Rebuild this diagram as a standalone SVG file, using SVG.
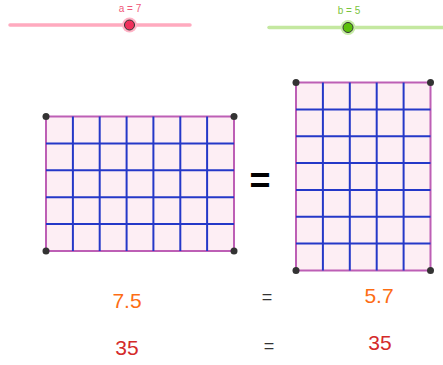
<svg xmlns="http://www.w3.org/2000/svg" width="443" height="365" viewBox="0 0 443 365">
<style>
.rect{fill:#fdeef4;stroke:#bd5fb5;stroke-width:2}
.grid{stroke:#2438c8;stroke-width:2}
.pt{fill:#333}
.t{font-family:"Liberation Sans",Arial,sans-serif;text-anchor:middle}
.o{fill:#fd6d14;font-size:21px}
.r{fill:#d42a2a;font-size:21px}
.eq{fill:#333;font-size:18px}
</style>
<rect width="443" height="365" fill="#fff"/>
<g id="sliderA">
<line x1="10" y1="25" x2="190" y2="25" stroke="#ffaabf" stroke-width="3.5" stroke-linecap="round"/>
<circle cx="129.5" cy="25" r="7.5" fill="#ffb3c6"/>
<circle cx="129.5" cy="25" r="5" fill="#f0305c" stroke="#333" stroke-width="1"/>
<text class="t" x="130" y="12" font-size="10" fill="#f0587a">a = 7</text>
</g>
<g id="sliderB">
<line x1="269" y1="27.5" x2="443" y2="27.5" stroke="#c4e8a0" stroke-width="3.5" stroke-linecap="round"/>
<circle cx="348" cy="27.5" r="7.5" fill="#c8eca8"/>
<circle cx="348" cy="27.5" r="5" fill="#5cc10c" stroke="#333" stroke-width="1"/>
<text class="t" x="349" y="14" font-size="10" fill="#7ac43c">b = 5</text>
</g>
<g id="rectA">
<rect class="rect" x="46" y="116.5" width="188" height="134.5"/>
<g class="grid">
<line x1="72.9" y1="116.5" x2="72.9" y2="251"/>
<line x1="99.7" y1="116.5" x2="99.7" y2="251"/>
<line x1="126.6" y1="116.5" x2="126.6" y2="251"/>
<line x1="153.4" y1="116.5" x2="153.4" y2="251"/>
<line x1="180.3" y1="116.5" x2="180.3" y2="251"/>
<line x1="207.1" y1="116.5" x2="207.1" y2="251"/>
<line x1="46" y1="143.4" x2="234" y2="143.4"/>
<line x1="46" y1="170.3" x2="234" y2="170.3"/>
<line x1="46" y1="197.2" x2="234" y2="197.2"/>
<line x1="46" y1="224.1" x2="234" y2="224.1"/>
</g>
<circle class="pt" cx="46" cy="116.5" r="3.5"/>
<circle class="pt" cx="234" cy="116.5" r="3.5"/>
<circle class="pt" cx="46" cy="251" r="3.5"/>
<circle class="pt" cx="234" cy="251" r="3.5"/>
</g>
<g id="bigEq">
<text x="260" y="193" class="t" font-size="36" font-weight="bold" fill="#000">=</text>
</g>
<g id="rectB">
<rect class="rect" x="296" y="82.5" width="134.5" height="188"/>
<g class="grid">
<line x1="322.9" y1="82.5" x2="322.9" y2="270.5"/>
<line x1="349.8" y1="82.5" x2="349.8" y2="270.5"/>
<line x1="376.7" y1="82.5" x2="376.7" y2="270.5"/>
<line x1="403.6" y1="82.5" x2="403.6" y2="270.5"/>
<line x1="296" y1="109.4" x2="430.5" y2="109.4"/>
<line x1="296" y1="136.2" x2="430.5" y2="136.2"/>
<line x1="296" y1="163.1" x2="430.5" y2="163.1"/>
<line x1="296" y1="189.9" x2="430.5" y2="189.9"/>
<line x1="296" y1="216.8" x2="430.5" y2="216.8"/>
<line x1="296" y1="243.6" x2="430.5" y2="243.6"/>
</g>
<circle class="pt" cx="296" cy="82.5" r="3.5"/>
<circle class="pt" cx="430.5" cy="82.5" r="3.5"/>
<circle class="pt" cx="296" cy="270.5" r="3.5"/>
<circle class="pt" cx="430.5" cy="270.5" r="3.5"/>
</g>
<g id="texts">
<text class="t o" x="127" y="308">7.5</text>
<text class="t eq" x="267" y="303">=</text>
<text class="t o" x="379" y="303">5.7</text>
<text class="t r" x="127" y="355">35</text>
<text class="t eq" x="269" y="352">=</text>
<text class="t r" x="380" y="350">35</text>
</g>
</svg>
